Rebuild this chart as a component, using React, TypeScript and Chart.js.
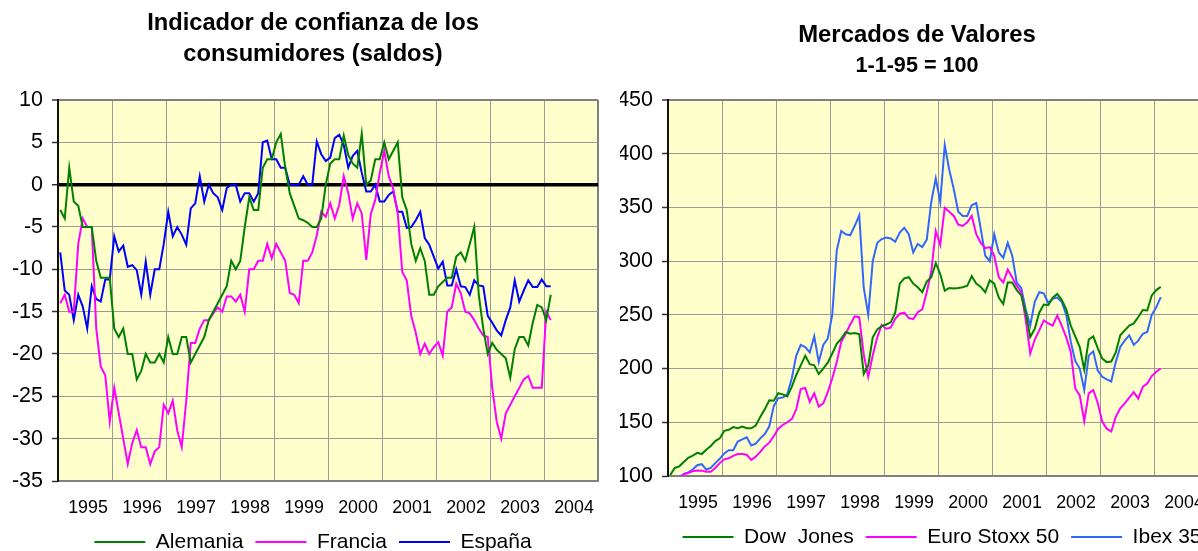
import React, { useEffect, useRef } from 'react';
import { Chart, registerables } from 'chart.js';

Chart.register(...registerables);

const FONT = "'Liberation Sans', Arial, sans-serif";

// ---- tick labels ----
const years = ['1995', '1996', '1997', '1998', '1999', '2000', '2001', '2002', '2003', '2004'];

// ---- left chart: consumer confidence (monthly, from Jan 1995) ----
const alemania = [
  -3, -4, 2, -2, -2.5, -5, -5, -5, -9, -11,
  -11, -11, -17, -18, -17, -20, -20, -23, -22, -20,
  -21, -21, -20, -21, -18, -20, -20, -18, -18, -21,
  -20, -19, -18, -16, -15, -14, -13, -12, -9, -10,
  -9, -5, -1.5, -3, -3, 2, 3, 3, 5, 6,
  2, -1, -2.5, -4, -4.2, -4.5, -5, -5, -4, 0,
  2.5, 3, 3, 5.8, 3.5, 2.5, 2, 6, 0, 0.5,
  3, 3, 5, 3, 4, 5, -1.5, -3, -7, -9,
  -7.5, -9, -13, -13, -12, -11.5, -11, -11, -8.5, -8,
  -9, -7, -5, -13, -17, -20, -18.7, -19.5, -20, -20.5,
  -22.8, -19.4, -18, -18, -19, -16.3, -14.2, -14.5, -16, -13,
];
const francia = [
  -14, -13, -15, -15, -7, -4, -5, -5, -17, -21.5,
  -22.5, -28, -24, -27, -30, -33, -30.5, -29, -31, -31,
  -33, -31.5, -31, -26, -27, -25.5, -29, -31, -25.5, -18.7,
  -18.7, -17, -16, -16, -15.2, -14.5, -15, -13.2, -13.2, -13.8,
  -13, -15, -10, -10, -9, -9, -7, -8.7, -7, -8,
  -9, -12.8, -13, -14, -9, -9, -8, -6, -3.2, -3.8,
  -2.2, -4, -2.4, 1, -1, -4, -2.2, -3.4, -8.9, -3.5,
  -1.8, 1.4, 4, 1, -0.5, -3.4, -10.3, -11.3, -15.5, -17.5,
  -20, -18.8, -20, -19.2, -18.6, -20.2, -15, -14.5, -11.7, -12.8,
  -15, -15.2, -16, -17, -17.8, -18, -24, -28, -30, -27,
  -26, -25, -24, -23, -22.6, -24, -24, -24, -15, -16,
];
const espana = [
  -8, -12.5, -13, -16, -13, -14.4, -17, -12, -13.5, -13.8,
  -11.2, -11.2, -6.1, -7.9, -7.2, -9.7, -9.5, -10.1, -13, -9.1,
  -13, -10, -10, -7, -3.2, -6.1, -5, -5.9, -7.1, -2.8,
  -2.2, 1, -2, 0, -1, -1.5, -3, -0.4, 0, 0,
  -2, -1, -1, -2, -1, 5, 5.2, 3, 3, 2,
  2, 0, 0, 0, 1, 0, 0, 5.1, 3.6, 2.8,
  3.2, 5.5, 5.9, 4.7, 2, 3.4, 4, 1.4, -0.8, -0.8,
  0, -2, -2, -1.2, -0.8, -3.2, -3.2, -5.1, -5, -4.2,
  -3.2, -6.3, -7.1, -8.5, -9.9, -9.1, -11.9, -11.9, -10, -12,
  -12.1, -13, -11.3, -11.9, -12, -15.5, -16.3, -17.2, -17.8, -16,
  -14.5, -11.3, -13.8, -12.5, -11.3, -12.1, -12.1, -11.2, -12, -12,
];

// ---- right chart: stock markets, 1-1-95 = 100 (monthly) ----
const dowJones = [
  101, 107.5, 109, 113, 117, 119, 121.5, 120.4, 124.4, 128,
  132.5, 135, 142, 143, 145.5, 144.5, 146, 144.4, 144.4, 147,
  155, 162, 170.5, 170, 177, 176, 174, 183, 194, 203,
  212, 204, 203, 195, 200, 205.5, 214, 223, 227.8, 234,
  232.4, 233, 232, 195, 203, 229, 236.5, 239.5, 241, 243,
  252, 279, 284, 285, 279, 275.6, 271, 281, 285, 298,
  288, 272.5, 275, 274.5, 275, 275.6, 277, 286, 279, 276,
  271, 282, 279, 266, 260, 280, 280, 273, 268, 252,
  229.3, 237, 252, 259.5, 259, 266, 269.4, 264, 255, 240,
  230, 220, 199, 227, 230, 219, 209.3, 206, 206.5, 215,
  230.9, 235.5, 240, 242, 248, 254.5, 254, 268, 273, 276,
];
const euroStoxx = [
  98, 97, 99, 101.5, 102.8, 104.5, 105.2, 105, 104, 104,
  107.5, 112, 115.5, 116.5, 118.8, 120.4, 120.4, 119.8, 115, 118,
  122.5, 127.5, 131, 137, 144, 147.5, 150, 153, 162, 181,
  182, 169, 177, 164.5, 167.6, 178, 190.7, 206, 225, 232.4,
  241, 248.5, 247.8, 213, 192.3, 212.3, 229, 240.5, 237, 238,
  246.3, 251, 252, 247, 246, 252.5, 255, 271, 290, 328,
  315, 349.7, 346, 342, 334, 332.7, 336, 342, 325, 317,
  312, 313, 305, 285, 280, 292, 285, 277, 271, 245,
  214, 227, 235.5, 244.8, 242, 240, 249.4, 240, 229, 215.4,
  181.5, 175, 151, 176.9, 180, 168, 150.6, 144, 141.4, 155,
  163, 167.6, 173, 178, 172, 183, 186, 193, 197, 200,
];
const ibex = [
  97, 96, 98, 102, 103.4, 106, 110, 111, 106, 107.5,
  112, 116, 121, 124, 124, 132, 134, 136, 128.4, 130,
  135, 139, 146, 165, 172.5, 173, 176, 190.7, 212, 222,
  220, 215, 230, 206, 222, 228, 250, 310, 328, 325,
  324, 332.7, 342.6, 275, 250, 300, 317, 320.5, 322, 321,
  318, 326.5, 331, 325, 308, 316, 313, 320, 355, 377,
  355, 408, 385, 367, 346, 342, 342, 352, 354, 330,
  305, 300, 325, 308, 303, 317, 305, 280, 275, 255,
  240, 262, 271, 270, 261, 265, 266, 262, 250, 225,
  207, 200, 180, 212, 216, 198, 192.3, 190, 188, 206,
  220, 226, 231, 222, 226, 232.4, 234, 250, 257, 266.4,
];

const toPoints = (values: number[]) => values.map((v, i) => ({ x: i + 0.5, y: v }));

const plotBg = {
  id: 'plotBg',
  beforeDraw(chart: any) {
    const { ctx, chartArea } = chart;
    if (!chartArea) return;
    ctx.save();
    ctx.fillStyle = '#FFFFCC';
    ctx.fillRect(chartArea.left, chartArea.top, chartArea.right - chartArea.left, chartArea.bottom - chartArea.top);
    ctx.restore();
  },
};

type Series = { label: string; values: number[]; color: string };

function makeConfig(p: {
  series: Series[];
  yMin: number;
  yMax: number;
  yStep: number;
  zeroLine: boolean;
  yAxisWidth: number;
  rightPad: number;
  xAxisHeight: number;
  xLabelPad: number;
  bottomPad: number;
  legendShift: number;
  title: any;
  subtitle: any;
}): any {
  const legendShift = {
    id: 'legendShift',
    afterLayout(chart: any) {
      const lg = chart.legend;
      if (lg && p.legendShift) {
        lg.left += p.legendShift;
        lg.right += p.legendShift;
      }
    },
  };
  return {
    type: 'line',
    data: {
      datasets: p.series.map((s) => ({
        label: s.label,
        data: toPoints(s.values),
        borderColor: s.color,
        backgroundColor: s.color,
        borderWidth: 2,
        pointRadius: 0,
        fill: false,
        tension: 0,
      })),
    },
    plugins: [plotBg, legendShift],
    options: {
      responsive: false,
      animation: false,
      events: [],
      layout: { padding: { top: 0, left: 0, right: 0, bottom: p.bottomPad } },
      plugins: {
        tooltip: { enabled: false },
        title: p.title,
        subtitle: p.subtitle,
        legend: {
          display: true,
          position: 'bottom',
          fullSize: true,
          labels: {
            usePointStyle: true,
            pointStyle: 'line',
            pointStyleWidth: 51,
            padding: 12,
            color: '#000',
            font: { family: FONT, size: 21 },
          },
        },
      },
      scales: {
        x: {
          type: 'linear',
          min: 0,
          max: 120,
          ticks: {
            stepSize: 12,
            autoSkip: false,
            maxRotation: 0,
            minRotation: 0,
            labelOffset: 30,
            padding: p.xLabelPad,
            color: '#000',
            font: { family: FONT, size: 17.8 },
            callback: (_v: any, idx: number) => years[idx] ?? '',
          },
          grid: {
            drawTicks: false,
            color: (c: any) => (c.tick && c.tick.value === 120 ? '#808080' : '#9a9a9a'),
            lineWidth: (c: any) => (c.tick && c.tick.value === 120 ? 2 : 1),
          },
          border: { display: true, color: '#808080', width: 2 },
          afterFit: (s: any) => {
            s.height = p.xAxisHeight;
            s.paddingLeft = 0;
            s.paddingRight = 0;
          },
        },
        y: {
          type: 'linear',
          position: 'left',
          min: p.yMin,
          max: p.yMax,
          ticks: {
            stepSize: p.yStep,
            padding: 9,
            color: '#000',
            font: { family: FONT, size: 21.5 },
          },
          grid: {
            drawTicks: true,
            tickLength: 6,
            tickWidth: 1.5,
            tickColor: '#333',
            color: (c: any) => {
              const v = c.tick ? c.tick.value : null;
              if (p.zeroLine && v === 0) return '#000';
              if (v === p.yMax) return '#808080';
              return '#9a9a9a';
            },
            lineWidth: (c: any) => {
              const v = c.tick ? c.tick.value : null;
              if (p.zeroLine && v === 0) return 3.5;
              if (v === p.yMax) return 2;
              return 1;
            },
          },
          border: { display: true, color: '#111', width: 2 },
          afterFit: (s: any) => {
            s.width = p.yAxisWidth;
          },
        },
        yPad: {
          type: 'linear',
          position: 'right',
          display: true,
          ticks: { display: false },
          grid: { display: false, drawTicks: false },
          border: { display: false },
          afterFit: (s: any) => {
            s.width = p.rightPad;
          },
        },
      },
    },
  };
}

const leftConfig = () =>
  makeConfig({
    series: [
      { label: 'Alemania', values: alemania, color: '#008000' },
      { label: 'Francia', values: francia, color: '#FF00FF' },
      { label: 'España', values: espana, color: '#0000FF' },
    ],
    yMin: -35,
    yMax: 10,
    yStep: 5,
    zeroLine: true,
    yAxisWidth: 58,
    rightPad: 28,
    xAxisHeight: 38.5,
    xLabelPad: 16.5,
    bottomPad: -11.5,
    legendShift: 0,
    title: {
      display: true,
      text: ['Indicador de confianza de los', 'consumidores (saldos)'],
      color: '#000',
      font: { family: FONT, size: 23.7, weight: 'bold', lineHeight: 1.31 },
      padding: { top: 7.5, bottom: 30.4 },
    },
    subtitle: { display: false },
  });

const rightConfig = () =>
  makeConfig({
    series: [
      { label: 'Dow  Jones', values: dowJones, color: '#008000' },
      { label: 'Euro Stoxx 50', values: euroStoxx, color: '#FF00FF' },
      { label: 'Ibex 35', values: ibex, color: '#3366FF' },
    ],
    yMin: 100,
    yMax: 450,
    yStep: 50,
    zeroLine: false,
    yAxisWidth: 48,
    rightPad: 6,
    xAxisHeight: 38.5,
    xLabelPad: 16.7,
    bottomPad: -6.5,
    legendShift: 25,
    title: {
      display: true,
      text: 'Mercados de Valores',
      color: '#000',
      font: { family: FONT, size: 23.9, weight: 'bold', lineHeight: 1.2 },
      padding: { top: 20.8, bottom: 0 },
    },
    subtitle: {
      display: true,
      text: '1-1-95 = 100',
      color: '#000',
      font: { family: FONT, size: 21.6, weight: 'bold', lineHeight: 1.2 },
      padding: { top: 3.5, bottom: 21 },
    },
  });

function ChartCanvas({ build, left, width, height }: { build: () => any; left: number; width: number; height: number }) {
  const ref = useRef<HTMLCanvasElement | null>(null);
  useEffect(() => {
    if (!ref.current) return;
    const chart = new Chart(ref.current, build());
    return () => chart.destroy();
  }, [build]);
  return (
    <div style={{ position: 'absolute', left, top: 0, width, height }}>
      <canvas ref={ref} width={width} height={height} style={{ display: 'block', width, height }} />
    </div>
  );
}

export default function App() {
  return (
    <div
      style={{
        position: 'absolute',
        left: 0,
        top: 0,
        width: 1198,
        height: 551,
        overflow: 'hidden',
        background: '#ffffff',
      }}
    >
      <ChartCanvas build={leftConfig} left={0} width={626} height={551} />
      <ChartCanvas build={rightConfig} left={620} width={594} height={551} />
    </div>
  );
}
